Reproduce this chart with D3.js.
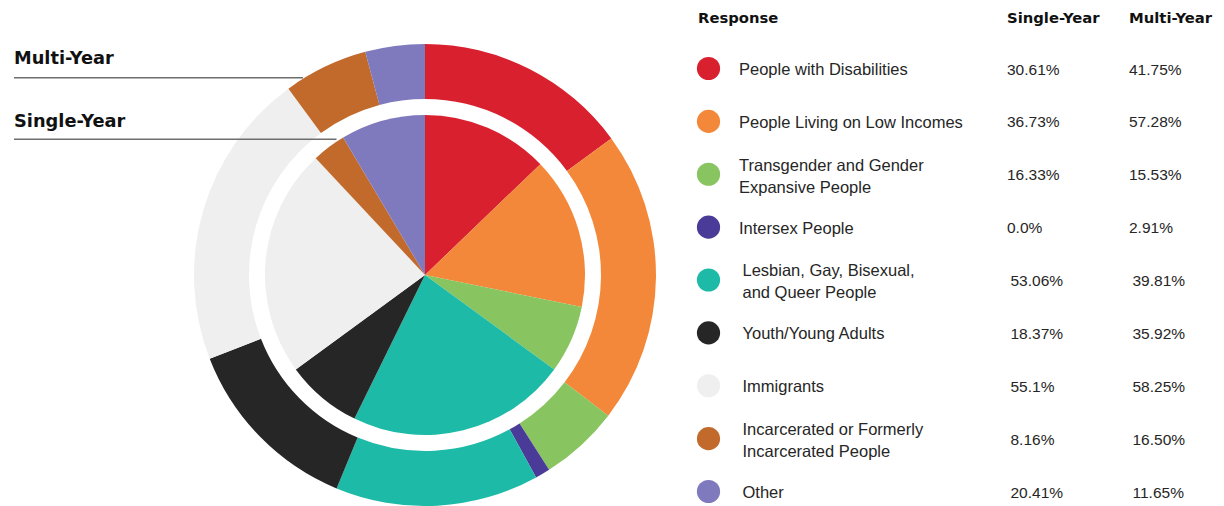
<!DOCTYPE html>
<html>
<head>
<meta charset="utf-8">
<script src="https://cdn.jsdelivr.net/npm/d3@7"></script>
<style>
  html, body { margin: 0; padding: 0; background: #ffffff; }
  svg { display: block; }
</style>
</head>
<body>
<svg id="chart" width="1224" height="506"></svg>
<script>
// ---- data ----
const categories = [
  "People with Disabilities",
  "People Living on Low Incomes",
  "Transgender and Gender Expansive People",
  "Intersex People",
  "Lesbian, Gay, Bisexual, and Queer People",
  "Youth/Young Adults",
  "Immigrants",
  "Incarcerated or Formerly Incarcerated People",
  "Other"
];
const labelLines = [
  ["People with Disabilities"],
  ["People Living on Low Incomes"],
  ["Transgender and Gender", "Expansive People"],
  ["Intersex People"],
  ["Lesbian, Gay, Bisexual,", "and Queer People"],
  ["Youth/Young Adults"],
  ["Immigrants"],
  ["Incarcerated or Formerly", "Incarcerated People"],
  ["Other"]
];
const singleYear = [30.61, 36.73, 16.33, 0.0, 53.06, 18.37, 55.1, 8.16, 20.41];
const multiYear  = [41.75, 57.28, 15.53, 2.91, 39.81, 35.92, 58.25, 16.50, 11.65];
const singleLabels = ["30.61%", "36.73%", "16.33%", "0.0%", "53.06%", "18.37%", "55.1%", "8.16%", "20.41%"];
const multiLabels  = ["41.75%", "57.28%", "15.53%", "2.91%", "39.81%", "35.92%", "58.25%", "16.50%", "11.65%"];
const colors = ["#d9202f", "#f4883a", "#88c45f", "#4a3b98", "#1dbaa7", "#262626", "#efefef", "#c16a2c", "#7f7abd"];
const headers = ["Response", "Single-Year", "Multi-Year"];
const ringLabels = ["Multi-Year", "Single-Year"];

// ---- layout ----
const svg = d3.select("#chart");
const cx = 425, cy = 275;
const pieR = 160, ringInner = 176, ringOuter = 231;

const color = d3.scaleOrdinal().domain(categories).range(colors);
const pie = d3.pie().sort(null).value(d => d.v);

const g = svg.append("g").attr("transform", `translate(${cx},${cy})`);

// outer ring (multi-year)
const outerArc = d3.arc().innerRadius(ringInner).outerRadius(ringOuter);
g.selectAll("path.outer")
  .data(pie(categories.map((c, i) => ({ c, v: multiYear[i] }))))
  .join("path")
  .attr("class", "outer")
  .attr("d", outerArc)
  .attr("fill", d => color(d.data.c));

// inner pie (single-year)
const innerArc = d3.arc().innerRadius(0).outerRadius(pieR);
g.selectAll("path.inner")
  .data(pie(categories.map((c, i) => ({ c, v: singleYear[i] }))).filter(d => d.data.v > 0))
  .join("path")
  .attr("class", "inner")
  .attr("d", innerArc)
  .attr("fill", d => color(d.data.c));

// ring labels with leader lines
const ringLabelY = [64, 127];
const ringLineY = [77.7, 139.3];
const ringRadius = [ringOuter + 1, pieR + 2];
ringLabels.forEach((t, i) => {
  svg.append("text")
    .attr("x", 14).attr("y", ringLabelY[i])
    .attr("font-family", "DejaVu Sans, sans-serif")
    .attr("font-weight", "bold")
    .attr("font-size", 17.8)
    .attr("fill", "#111")
    .text(t);
  const dy = ringLineY[i] - cy;
  const xEnd = cx - Math.sqrt(ringRadius[i] * ringRadius[i] - dy * dy);
  svg.append("line")
    .attr("x1", 14).attr("x2", xEnd)
    .attr("y1", ringLineY[i]).attr("y2", ringLineY[i])
    .attr("stroke", "#6e6e6e").attr("stroke-width", 1.4);
});

// table
const colX = [698, 1007, 1129];
headers.forEach((h, i) => {
  svg.append("text")
    .attr("x", colX[i]).attr("y", 22.5)
    .attr("font-family", "DejaVu Sans, sans-serif")
    .attr("font-weight", "bold")
    .attr("font-size", 14.8)
    .attr("fill", "#111")
    .text(h);
});

const rowY = d3.scalePoint().domain(categories).range([68.5, 491.5]);
const rows = svg.append("g").selectAll("g.row")
  .data(categories)
  .join("g")
  .attr("class", "row")
  .attr("transform", d => `translate(0,${rowY(d)})`);

rows.append("circle")
  .attr("cx", 708.5).attr("cy", 0).attr("r", 11.6)
  .attr("fill", d => color(d));

rows.each(function (d, i) {
  const sel = d3.select(this);
  const lines = labelLines[i];
  const shift = i >= 4 ? 3.5 : 0;   // lower block of the table sits slightly to the right
  const lh = 22;
  const off = lines.length > 1 ? -(lines.length - 1) * lh / 2 + 1.5 : 0.5;
  lines.forEach((ln, j) => {
    sel.append("text")
      .attr("x", 739 + shift)
      .attr("y", off + j * lh)
      .attr("dy", "0.36em")
      .attr("font-family", "Liberation Sans, Arial, sans-serif")
      .attr("font-size", 16.5)
      .attr("fill", "#262626")
      .text(ln);
  });
  sel.append("text")
    .attr("x", 1007 + shift).attr("y", 0.5).attr("dy", "0.36em")
    .attr("font-family", "Liberation Sans, Arial, sans-serif")
    .attr("font-size", 15.5)
    .attr("fill", "#262626")
    .text(singleLabels[i]);
  sel.append("text")
    .attr("x", 1129 + shift).attr("y", 0.5).attr("dy", "0.36em")
    .attr("font-family", "Liberation Sans, Arial, sans-serif")
    .attr("font-size", 15.5)
    .attr("fill", "#262626")
    .text(multiLabels[i]);
});
</script>
</body>
</html>
